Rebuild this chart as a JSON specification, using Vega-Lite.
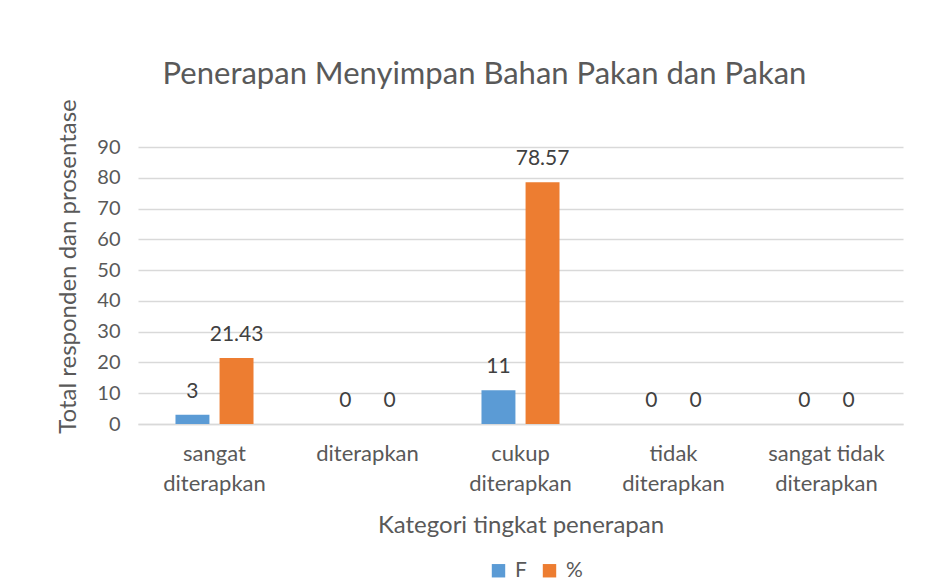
{
  "$schema": "https://vega.github.io/schema/vega-lite/v6.json",
  "width": 765,
  "height": 277,
  "autosize": {"type": "none"},
  "padding": {"left": 138, "top": 147, "right": 46, "bottom": 156},
  "background": "#ffffff",
  "config": {
    "font": "Lato",
    "view": {"stroke": null}
  },
  "title": {
    "text": "Penerapan Menyimpan Bahan Pakan dan Pakan",
    "font": "Lato",
    "fontSize": 31,
    "fontWeight": "normal",
    "color": "#595959",
    "anchor": "middle",
    "dx": -36,
    "offset": 8
  },
  "data": {
    "values": [
      {"kategori": "sangat diterapkan", "seri": "F", "nilai": 3},
      {"kategori": "sangat diterapkan", "seri": "%", "nilai": 21.43},
      {"kategori": "diterapkan", "seri": "F", "nilai": 0},
      {"kategori": "diterapkan", "seri": "%", "nilai": 0},
      {"kategori": "cukup diterapkan", "seri": "F", "nilai": 11},
      {"kategori": "cukup diterapkan", "seri": "%", "nilai": 78.57},
      {"kategori": "tidak diterapkan", "seri": "F", "nilai": 0},
      {"kategori": "tidak diterapkan", "seri": "%", "nilai": 0},
      {"kategori": "sangat tidak diterapkan", "seri": "F", "nilai": 0},
      {"kategori": "sangat tidak diterapkan", "seri": "%", "nilai": 0}
    ]
  },
  "encoding": {
    "x": {
      "field": "kategori",
      "type": "nominal",
      "sort": ["sangat diterapkan", "diterapkan", "cukup diterapkan", "tidak diterapkan", "sangat tidak diterapkan"],
      "scale": {"paddingInner": 0.49, "paddingOuter": 0.245},
      "axis": {
        "title": "Kategori tingkat penerapan",
        "titleFont": "Lato",
        "titleFontSize": 24,
        "titleFontWeight": "normal",
        "titleColor": "#595959",
        "titleY": 101,
        "titleBaseline": "middle",
        "labelAngle": 0,
        "labelFont": "Lato",
        "labelFontSize": 22,
        "labelColor": "#595959",
        "labelBaseline": "top",
        "labelLineHeight": 30,
        "labelPadding": 19,
        "labelExpr": "datum.label == 'diterapkan' ? 'diterapkan' : [replace(datum.label, ' diterapkan', ''), 'diterapkan']",
        "domain": true,
        "domainColor": "#d9d9d9",
        "domainWidth": 1.5,
        "ticks": false
      }
    },
    "xOffset": {
      "field": "seri",
      "type": "nominal",
      "sort": ["F", "%"],
      "scale": {"paddingInner": 0.23}
    },
    "y": {
      "field": "nilai",
      "type": "quantitative",
      "scale": {"domain": [0, 90]},
      "axis": {
        "title": "Total responden dan prosentase",
        "titleFont": "Lato",
        "titleFontSize": 24,
        "titleFontWeight": "normal",
        "titleColor": "#595959",
        "titleX": -70,
        "titleY": 119,
        "titleBaseline": "middle",
        "values": [0, 10, 20, 30, 40, 50, 60, 70, 80, 90],
        "labelOverlap": false,
        "labelFont": "Lato",
        "labelFontSize": 20,
        "labelColor": "#595959",
        "labelPadding": 18,
        "domain": false,
        "ticks": false,
        "gridColor": "#d9d9d9",
        "gridWidth": 1.5
      }
    }
  },
  "layer": [
    {
      "mark": {"type": "bar"},
      "encoding": {
        "color": {
          "field": "seri",
          "type": "nominal",
          "scale": {"domain": ["F", "%"], "range": ["#5B9BD5", "#ED7D31"]},
          "legend": {
            "title": null,
            "orient": "none",
            "direction": "horizontal",
            "legendX": 350,
            "legendY": 413,
            "symbolType": "square",
            "symbolSize": 180,
            "symbolStrokeWidth": 0,
            "labelFont": "Lato",
            "labelFontSize": 21,
            "labelColor": "#595959",
            "labelOffset": 6,
            "columnPadding": 12
          }
        }
      }
    },
    {
      "mark": {"type": "text", "font": "Lato", "fontSize": 21, "color": "#404040", "baseline": "alphabetic", "dy": -17},
      "encoding": {
        "text": {"field": "nilai", "type": "quantitative"}
      }
    }
  ]
}
